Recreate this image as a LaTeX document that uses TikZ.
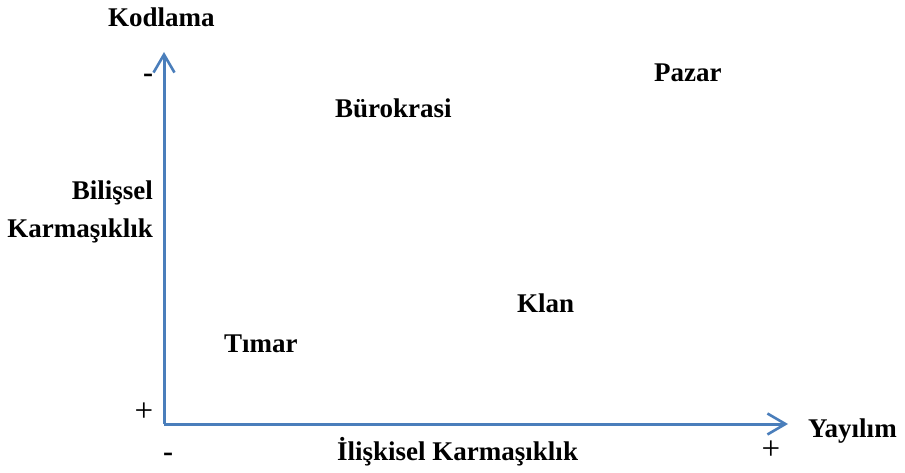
\documentclass[tikz,border=0pt]{standalone}
\usepackage{fontspec}
\setmainfont{Liberation Serif}
\usetikzlibrary{arrows.meta}
\definecolor{axisblue}{HTML}{4A7EBB}
\tikzset{
  lbl/.style={inner sep=0pt, font=\fontsize{27}{31}\selectfont\bfseries},
  dashmark/.style={inner sep=0pt, font=\fontsize{30}{34}\selectfont\bfseries},
  sign/.style={inner sep=0pt, font=\fontsize{33}{37}\selectfont},
  axis/.style={draw=axisblue, line width=3pt,
    -{Straight Barb[length=18pt, width=21pt, line width=2.6pt]}}
}
\begin{document}
\begin{tikzpicture}[x=1pt, y=-1pt]
  \useasboundingbox (0,0) rectangle (905,473);
  % axes
  \coordinate (origin) at (164,424);
  \coordinate (ytip) at (164,52);
  \coordinate (xtip) at (788,424);
  \draw[axis] (origin) -- (ytip);
  \draw[axis] (origin) -- (xtip);
  % axis titles
  \node[lbl, anchor=base west] (kod) at (108,27) {Kodlama};
  \node[lbl, anchor=base west] (yay) at (808,437) {Yayılım};
  \node[lbl, anchor=base west] (ilis) at (337,460) {İlişkisel Karmaşıklık};
  \node[lbl, anchor=base east] (bil) at (153,200) {Bilişsel};
  \node[lbl, anchor=base east] (karm) at (153,237) {Karmaşıklık};
  % sign markers
  \node[dashmark, anchor=base] (ymin) at (148,83) {-};
  \node[sign] (yplus) at (144,412) {+};
  \node[dashmark, anchor=base] (xmin) at (168,461) {-};
  \node[sign] (xplus) at (771,450) {+};
  % regions of the plane
  \node[lbl, anchor=base west] (pazar) at (654,82) {Pazar};
  \node[lbl, anchor=base west] (buro) at (335,118) {Bürokrasi};
  \node[lbl, anchor=base west] (klan) at (517,312) {Klan};
  \node[lbl, anchor=base west] (timar) at (224,352) {Tımar};
\end{tikzpicture}
\end{document}
